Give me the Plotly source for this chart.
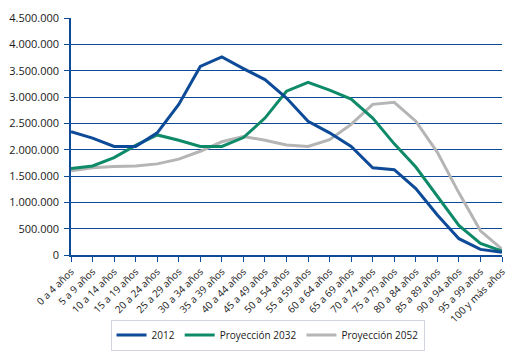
import plotly.graph_objects as go

categories = ["0 a 4 años", "5 a 9 años", "10 a 14 años", "15 a 19 años", "20 a 24 años",
              "25 a 29 años", "30 a 34 años", "35 a 39 años", "40 a 44 años", "45 a 49 años",
              "50 a 54 años", "55 a 59 años", "60 a 64 años", "65 a 69 años", "70 a 74 años",
              "75 a 79 años", "80 a 84 años", "85 a 89 años", "90 a 94 años", "95 a 99 años",
              "100 y más años"]

s2012 = [2340000, 2220000, 2060000, 2060000, 2320000, 2860000, 3580000, 3760000, 3540000, 3330000,
         2980000, 2540000, 2320000, 2060000, 1655000, 1620000, 1260000, 760000, 310000, 106000, 50000]
s2032 = [1640000, 1690000, 1850000, 2080000, 2280000, 2180000, 2060000, 2060000, 2230000, 2600000,
         3110000, 3280000, 3130000, 2960000, 2600000, 2110000, 1670000, 1120000, 560000, 220000, 74000]
s2052 = [1600000, 1655000, 1680000, 1690000, 1730000, 1820000, 1970000, 2150000, 2250000, 2180000,
         2090000, 2060000, 2190000, 2480000, 2860000, 2900000, 2540000, 1950000, 1180000, 460000, 110000]

series_names = ["2012", "Proyección 2032", "Proyección 2052"]
y_tickvals = [0, 500000, 1000000, 1500000, 2000000, 2500000, 3000000, 3500000, 4000000, 4500000]
y_ticktext = ["0", "500.000", "1.000.000", "1.500.000", "2.000.000", "2.500.000",
              "3.000.000", "3.500.000", "4.000.000", "4.500.000"]

colors = ["#0d4a98", "#0f8a69", "#b5b5b5"]
AXIS = "#0d4a98"

x = list(range(len(categories)))
fig = go.Figure()
for name, vals, c in zip(series_names, [s2012, s2032, s2052], colors):
    fig.add_trace(go.Scatter(x=x, y=vals, name=name, mode="lines",
                             line=dict(color=c, width=3)))

# draw order: keep 2012 on top
fig.data = (fig.data[2], fig.data[1], fig.data[0])

# page body has an 8px default margin, so the figure is sized to fill the rest of the window
fig.update_layout(
    width=507, height=352,
    margin=dict(l=63, r=13, t=10, b=92),
    paper_bgcolor="white", plot_bgcolor="white",
    font=dict(family="Open Sans", size=10, color="#1a1a1a"),
    showlegend=True,
    legend=dict(orientation="h", x=0.456, xanchor="center", y=-0.338, yanchor="middle",
                bordercolor="#d0d4de", borderwidth=1, traceorder="reversed",
                font=dict(size=10), itemwidth=30),
)
fig.update_xaxes(range=[0, 20], tickmode="array", tickvals=x, ticktext=categories,
                 tickangle=-45, showgrid=False, showline=True, linecolor=AXIS, linewidth=1.5,
                 ticks="outside", ticklen=5, tickcolor=AXIS, tickwidth=1.2,
                 tickfont=dict(size=10), zeroline=False, automargin=False)
fig.update_yaxes(range=[0, 4500000], tickmode="array", tickvals=y_tickvals, ticktext=y_ticktext,
                 showgrid=True, gridcolor=AXIS, gridwidth=1.2, showline=True, linecolor=AXIS,
                 linewidth=1.5, ticks="outside", ticklen=5, tickcolor=AXIS, tickwidth=1.2,
                 zeroline=False, ticklabelstandoff=3,
                 tickfont=dict(size=11), automargin=False)

fig.write_html("out.html")
